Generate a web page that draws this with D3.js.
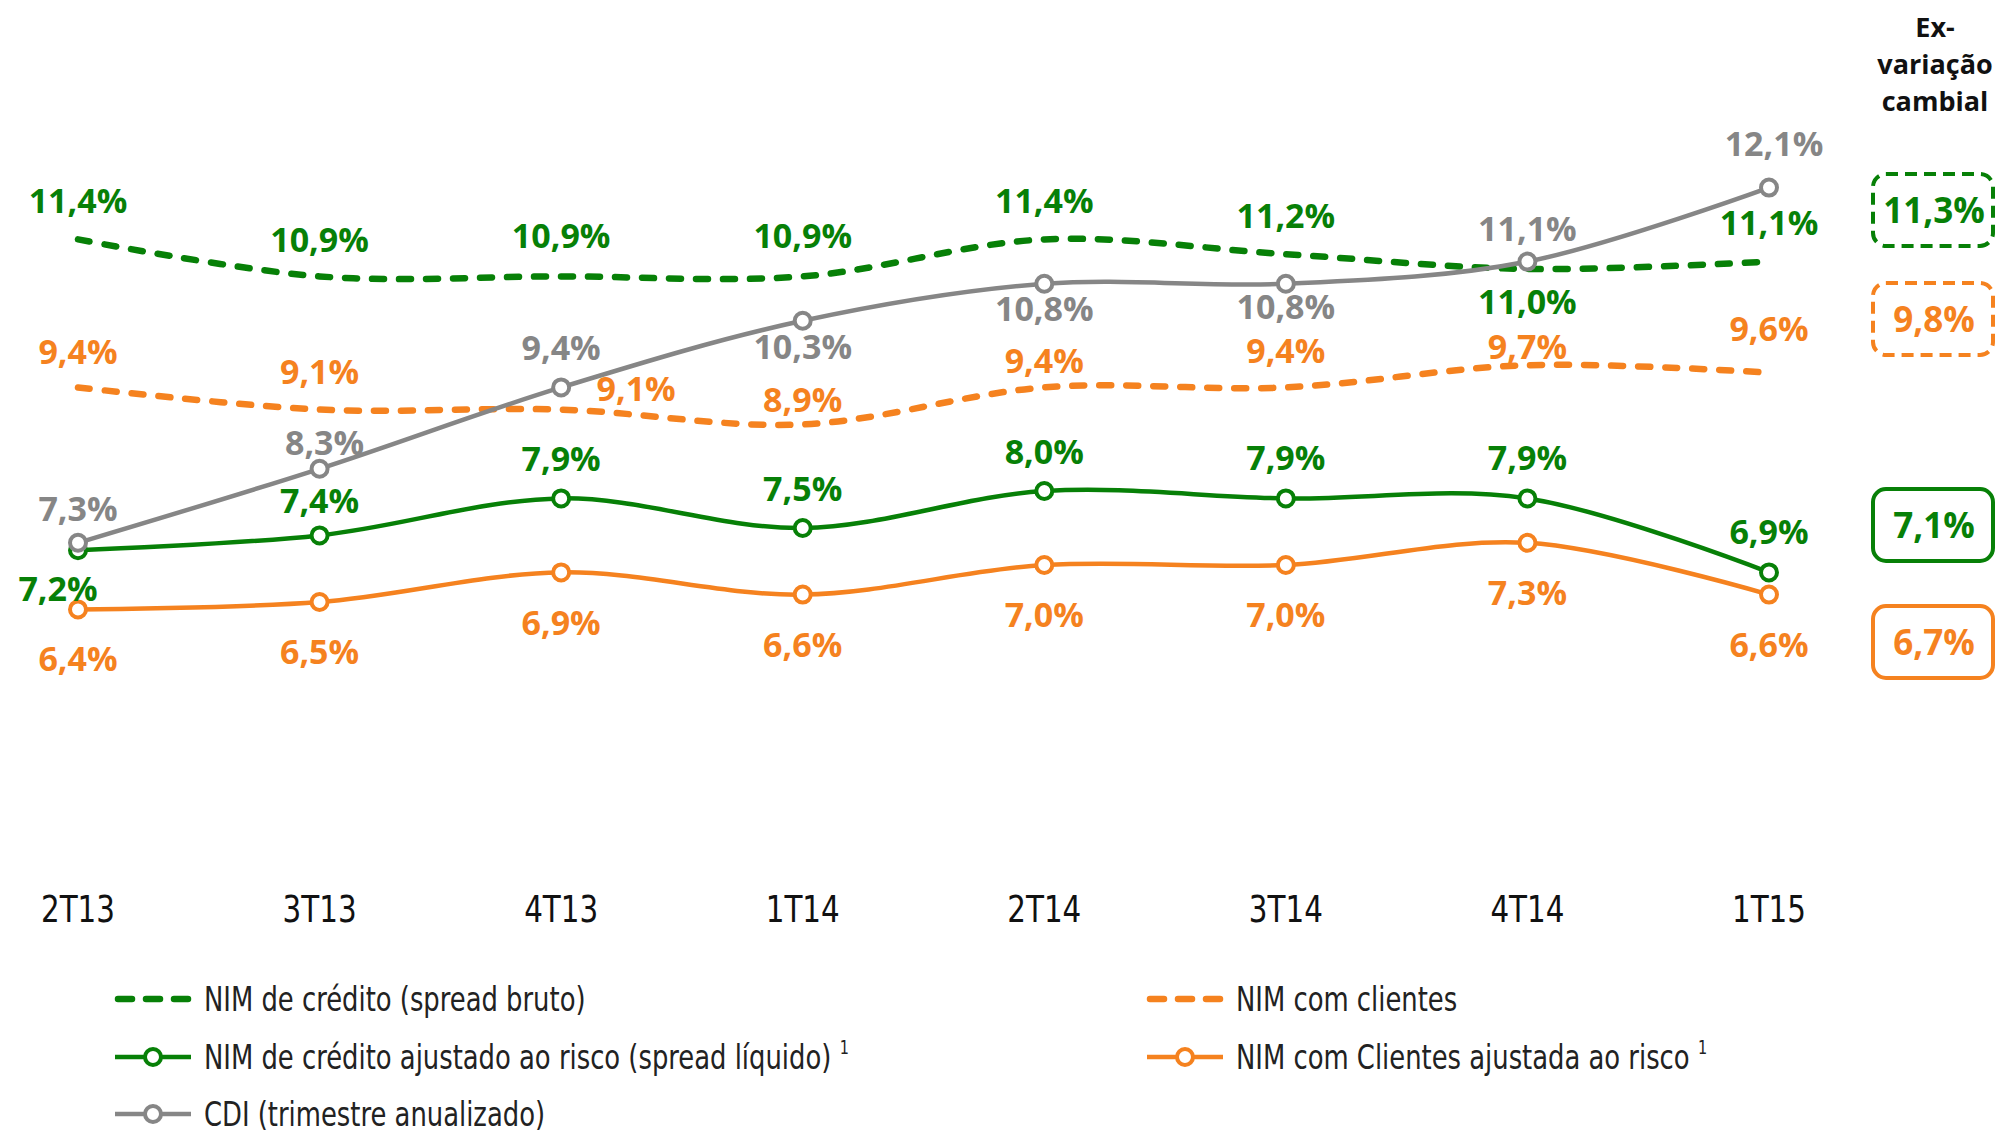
<!DOCTYPE html>
<html lang="pt">
<head>
  <meta charset="utf-8">
  <title>NIM de crédito e NIM com clientes</title>
  <script src="https://d3js.org/d3.v7.min.js"></script>
</head>
<body style="margin: 0; background-color: white;">
  <svg id="chart" width="1997" height="1134"></svg>
<script>
  // values
  var quarters = ["2T13", "3T13", "4T13", "1T14", "2T14", "3T14", "4T14", "1T15"];
  var nimCredito = [11.4, 10.9, 10.9, 10.9, 11.4, 11.2, 11.0, 11.1];
  var nimCreditoAjustado = [7.2, 7.4, 7.9, 7.5, 8.0, 7.9, 7.9, 6.9];
  var nimClientes = [9.4, 9.1, 9.1, 8.9, 9.4, 9.4, 9.7, 9.6];
  var nimClientesAjustado = [6.4, 6.5, 6.9, 6.6, 7.0, 7.0, 7.3, 6.6];
  var cdi = [7.3, 8.3, 9.4, 10.3, 10.8, 10.8, 11.1, 12.1];
  var exVariacao = [11.3, 9.8, 7.1, 6.7];

  var green = "#078007",
      orange = "#F5821F",
      gray = "#868686";

  var svg = d3.select("#chart");

  var x = d3.scalePoint().domain(quarters).range([78, 1769]);
  var y = d3.scaleLinear().domain([6, 13]).range([639, 121]);

  var fmt = function(v) { return d3.format(".1f")(v).replace(".", ",") + "%"; };

  // label offsets from each point: [dx, dy of baseline]
  var series = [
    { name: "NIM com Clientes ajustada ao risco", values: nimClientesAjustado, color: orange, dashed: false,
      lab: [[0, 62], [0, 62], [0, 63], [0, 62], [0, 62], [0, 62], [0, 62], [0, 62]] },
    { name: "NIM de crédito ajustado ao risco (spread líquido)", values: nimCreditoAjustado, color: green, dashed: false,
      lab: [[-20, 51], [0, -22], [0, -27], [0, -27], [0, -27], [0, -28], [0, -28], [0, -28]] },
    { name: "NIM com clientes", values: nimClientes, color: orange, dashed: true,
      lab: [[0, -23], [0, -26], [75, -9], [0, -12], [0, -14], [0, -24], [0, -6], [0, -32]] },
    { name: "NIM de crédito (spread bruto)", values: nimCredito, color: green, dashed: true,
      lab: [[0, -26], [0, -24], [0, -28], [0, -28], [0, -26], [0, -26], [0, 45], [0, -27]] },
    { name: "CDI (trimestre anualizado)", values: cdi, color: gray, dashed: false,
      lab: [[0, -22], [5, -14], [0, -27], [0, 38], [0, 37], [0, 35], [0, -21], [5, -32]] }
  ];

  var line = d3.line()
    .x(function(d, i) { return x(quarters[i]); })
    .y(function(d) { return y(d); })
    .curve(d3.curveCatmullRom.alpha(0.5));

  var plot = svg.append("g");

  series.forEach(function(s) {
    plot.append("path")
      .attr("d", line(s.values))
      .attr("fill", "none")
      .attr("stroke", s.color)
      .attr("stroke-width", s.dashed ? 6.5 : 4.5)
      .attr("stroke-linecap", s.dashed ? "round" : "butt")
      .attr("stroke-dasharray", s.dashed ? "12,15" : null);

    if (!s.dashed) {
      plot.selectAll(null)
        .data(s.values)
        .enter().append("circle")
        .attr("cx", function(d, i) { return x(quarters[i]); })
        .attr("cy", function(d) { return y(d); })
        .attr("r", 8)
        .attr("fill", "white")
        .attr("stroke", s.color)
        .attr("stroke-width", 4);
    }
  });

  // data labels
  series.forEach(function(s) {
    plot.selectAll(null)
      .data(s.values)
      .enter().append("text")
      .attr("x", function(d, i) { return x(quarters[i]) + s.lab[i][0]; })
      .attr("y", function(d, i) { return y(d) + s.lab[i][1]; })
      .attr("text-anchor", "middle")
      .attr("font-family", "'Open Sans', sans-serif")
      .attr("font-weight", "bold")
      .attr("font-size", "34px")
      .attr("fill", s.color)
      .text(fmt);
  });

  // x axis labels (condensed)
  svg.append("g").selectAll("text")
    .data(quarters)
    .enter().append("text")
    .attr("transform", function(d) { return "translate(" + x(d) + ",922) scale(0.86,1)"; })
    .attr("text-anchor", "middle")
    .attr("font-family", "'DejaVu Sans Condensed', 'DejaVu Sans', sans-serif")
    .attr("font-size", "38px")
    .attr("fill", "#111")
    .text(function(d) { return d; });

  // Ex-variação cambial column
  var head = svg.append("text")
    .attr("text-anchor", "middle")
    .attr("font-family", "'Open Sans', sans-serif")
    .attr("font-weight", "bold")
    .attr("font-size", "27px")
    .attr("fill", "#111");
  ["Ex-", "variação", "cambial"].forEach(function(t, i) {
    head.append("tspan").attr("x", 1935).attr("y", 37 + i * 37).text(t);
  });

  var boxes = [
    { value: exVariacao[0], color: green, dashed: true, cy: 210 },
    { value: exVariacao[1], color: orange, dashed: true, cy: 319 },
    { value: exVariacao[2], color: green, dashed: false, cy: 525 },
    { value: exVariacao[3], color: orange, dashed: false, cy: 642 }
  ];
  var bx = svg.append("g").selectAll("g")
    .data(boxes)
    .enter().append("g");
  bx.append("rect")
    .attr("x", 1873)
    .attr("y", function(d) { return d.cy - 36; })
    .attr("width", 120)
    .attr("height", 72)
    .attr("rx", 13)
    .attr("fill", "white")
    .attr("stroke", function(d) { return d.color; })
    .attr("stroke-width", 4)
    .attr("stroke-dasharray", function(d) { return d.dashed ? "12,7" : null; });
  bx.append("text")
    .attr("x", 1934)
    .attr("y", function(d) { return d.cy + 13; })
    .attr("text-anchor", "middle")
    .attr("font-family", "'Open Sans', sans-serif")
    .attr("font-weight", "bold")
    .attr("font-size", "35px")
    .attr("fill", function(d) { return d.color; })
    .text(function(d) { return fmt(d.value); });

  // legend
  var legendItems = [
    { s: series[3], col: 0, row: 0, sup: false },
    { s: series[1], col: 0, row: 1, sup: true },
    { s: series[4], col: 0, row: 2, sup: false },
    { s: series[2], col: 1, row: 0, sup: false },
    { s: series[0], col: 1, row: 1, sup: true }
  ];
  var colX = [115, 1147],
      rowY = [999, 1057, 1114];

  var lg = svg.append("g").selectAll("g")
    .data(legendItems)
    .enter().append("g")
    .attr("transform", function(d) { return "translate(" + colX[d.col] + "," + rowY[d.row] + ")"; });

  lg.append("line")
    .attr("x1", function(d) { return d.s.dashed ? 3 : 0; })
    .attr("x2", function(d) { return d.s.dashed ? 73 : 76; })
    .attr("stroke", function(d) { return d.s.color; })
    .attr("stroke-width", function(d) { return d.s.dashed ? 6.5 : 4.5; })
    .attr("stroke-linecap", function(d) { return d.s.dashed ? "round" : "butt"; })
    .attr("stroke-dasharray", function(d) { return d.s.dashed ? "14,14" : null; });

  lg.filter(function(d) { return !d.s.dashed; })
    .append("circle")
    .attr("cx", 38)
    .attr("r", 8)
    .attr("fill", "white")
    .attr("stroke", function(d) { return d.s.color; })
    .attr("stroke-width", 4);

  var lt = lg.append("text")
    .attr("transform", "translate(89,12) scale(0.845,1)")
    .attr("font-family", "'DejaVu Sans Condensed', 'DejaVu Sans', sans-serif")
    .attr("font-size", "34px")
    .attr("fill", "#222")
    .text(function(d) { return d.s.name; });
  lt.filter(function(d) { return d.sup; })
    .append("tspan")
    .attr("dx", 10)
    .attr("dy", -15)
    .attr("font-size", "19px")
    .text("1");
</script>
</body>
</html>
